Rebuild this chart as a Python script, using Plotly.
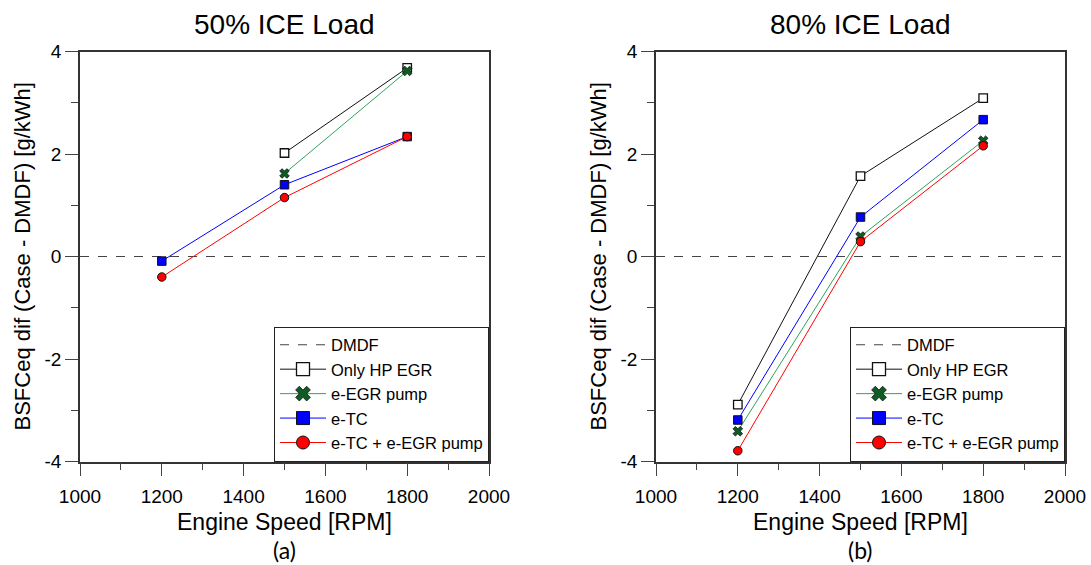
import plotly.graph_objects as go

# ---------------- data ----------------
speeds = [1200, 1500, 1800]
dmdf_x = [1000, 2000]
dmdf_y = [0, 0]

# 50% ICE load
hp_egr_50 = [None, 2.02, 3.68]
e_egr_50 = [None, 1.62, 3.62]
e_tc_50 = [-0.09, 1.40, 2.34]
e_tc_egr_50 = [-0.40, 1.15, 2.34]

# 80% ICE load
hp_egr_80 = [-2.89, 1.57, 3.09]
e_egr_80 = [-3.41, 0.39, 2.26]
e_tc_80 = [-3.19, 0.77, 2.67]
e_tc_egr_80 = [-3.79, 0.29, 2.16]

titles = ["50% ICE Load", "80% ICE Load"]
sub_labels = ["(a)", "(b)"]
x_title = "Engine Speed [RPM]"
y_title = "BSFCeq dif (Case - DMDF) [g/kWh]"
series_names = ["DMDF", "Only HP EGR", "e-EGR pump", "e-TC", "e-TC + e-EGR pump"]
y_tickvals = [-4, -2, 0, 2, 4]
y_ticktext = ["-4", "-2", "0", "2", "4"]

W, H = 1091, 565
FONT = "Arial, Liberation Sans, sans-serif"

# layout geometry (pixels)
px_left = [(80, 489), (656, 1065)]
py_top, py_bot = 51.5, 461.5


def fx(p):
    return p / W


def fy(p):
    return 1 - p / H


fig = go.Figure()

panels = [
    (hp_egr_50, e_egr_50, e_tc_50, e_tc_egr_50),
    (hp_egr_80, e_egr_80, e_tc_80, e_tc_egr_80),
]

styles = [
    dict(line=dict(color="#111111", width=1),
         marker=lambda s: dict(symbol="square", size=s, color="white", line=dict(color="#111111", width=1.3))),
    dict(line=dict(color="#2ca55a", width=1),
         marker=lambda s: dict(symbol="x", size=s, color="#0d5c23", line=dict(color="#111111", width=0.8))),
    dict(line=dict(color="#0000ff", width=1),
         marker=lambda s: dict(symbol="square", size=s, color="#0000ff", line=dict(color="#111111", width=1))),
    dict(line=dict(color="#ff0000", width=1),
         marker=lambda s: dict(symbol="circle", size=s, color="#ff0000", line=dict(color="#111111", width=1))),
]

for i, series in enumerate(panels):
    xa = "x" if i == 0 else "x2"
    ya = "y" if i == 0 else "y2"
    lg = "legend" if i == 0 else "legend2"
    fig.add_trace(go.Scatter(x=dmdf_x, y=dmdf_y, mode="lines", name=series_names[0],
                             line=dict(color="#444444", width=1.2, dash="dash"),
                             xaxis=xa, yaxis=ya, legend=lg))
    for k, vals in enumerate(series):
        st = styles[k]
        # data trace
        fig.add_trace(go.Scatter(x=speeds, y=vals, mode="lines+markers", name=series_names[k + 1],
                                 line=st["line"], marker=st["marker"](8.5),
                                 xaxis=xa, yaxis=ya, showlegend=False))
        # legend entry (larger symbol, like the reference)
        fig.add_trace(go.Scatter(x=[None], y=[None], mode="lines+markers", name=series_names[k + 1],
                                 line=st["line"], marker=st["marker"](13),
                                 xaxis=xa, yaxis=ya, legend=lg, showlegend=True))

axis_common = dict(
    showline=True, linecolor="#333333", linewidth=1.5, mirror=True,
    ticks="outside", ticklen=13, tickwidth=1.2, tickcolor="#444444",
    showgrid=False, zeroline=False,
    tickfont=dict(family=FONT, size=19, color="black"),
)

layout = dict(
    width=W, height=H,
    margin=dict(l=0, r=0, t=0, b=0, pad=0, autoexpand=False),
    paper_bgcolor="white", plot_bgcolor="white",
    font=dict(family=FONT, color="black"),
)

for i in range(2):
    sfx = "" if i == 0 else "2"
    l, r = px_left[i]
    layout["xaxis" + sfx] = dict(
        axis_common, domain=[fx(l), fx(r)], range=[1000, 2000], dtick=200, tick0=1000,
        anchor="y" + sfx,
        minor=dict(ticks="outside", ticklen=7, dtick=100, tick0=1000, tickcolor="#444444", tickwidth=1.2),
        ticklabelstandoff=4,
    )
    layout["yaxis" + sfx] = dict(
        axis_common, domain=[fy(py_bot), fy(py_top)], range=[-4, 4],
        tickmode="array", tickvals=y_tickvals, ticktext=y_ticktext,
        anchor="x" + sfx,
        minor=dict(ticks="outside", ticklen=7, dtick=1, tick0=0, tickcolor="#444444", tickwidth=1.2),
    )
    lgname = "legend" if i == 0 else "legend2"
    layout[lgname] = dict(
        x=fx(r), xanchor="right", y=fy(py_bot), yanchor="bottom",
        bgcolor="white", bordercolor="#222222", borderwidth=1,
        font=dict(family=FONT, size=16.5, color="black"),
        itemsizing="trace", tracegroupgap=0, itemwidth=46,
    )

fig.update_layout(**layout)

annotations = []
for i in range(2):
    l, r = px_left[i]
    cx = (l + r) / 2
    annotations.append(dict(text=titles[i], x=fx(cx), y=fy(24), xref="paper", yref="paper",
                            showarrow=False, xanchor="center", yanchor="middle",
                            font=dict(family=FONT, size=28, color="black")))
    annotations.append(dict(text=x_title, x=fx(cx), y=fy(522), xref="paper", yref="paper",
                            showarrow=False, xanchor="center", yanchor="middle",
                            font=dict(family=FONT, size=23, color="black")))
    annotations.append(dict(text=sub_labels[i], x=fx(cx), y=fy(550), xref="paper", yref="paper",
                            showarrow=False, xanchor="center", yanchor="middle",
                            font=dict(family="Lato, Open Sans, sans-serif", size=23, color="black")))
    annotations.append(dict(text=y_title, x=fx(l - 58), y=fy((py_top + py_bot) / 2),
                            xref="paper", yref="paper", textangle=-90,
                            showarrow=False, xanchor="center", yanchor="middle",
                            font=dict(family=FONT, size=22, color="black")))
fig.update_layout(annotations=annotations)

fig.write_html("out.html")
